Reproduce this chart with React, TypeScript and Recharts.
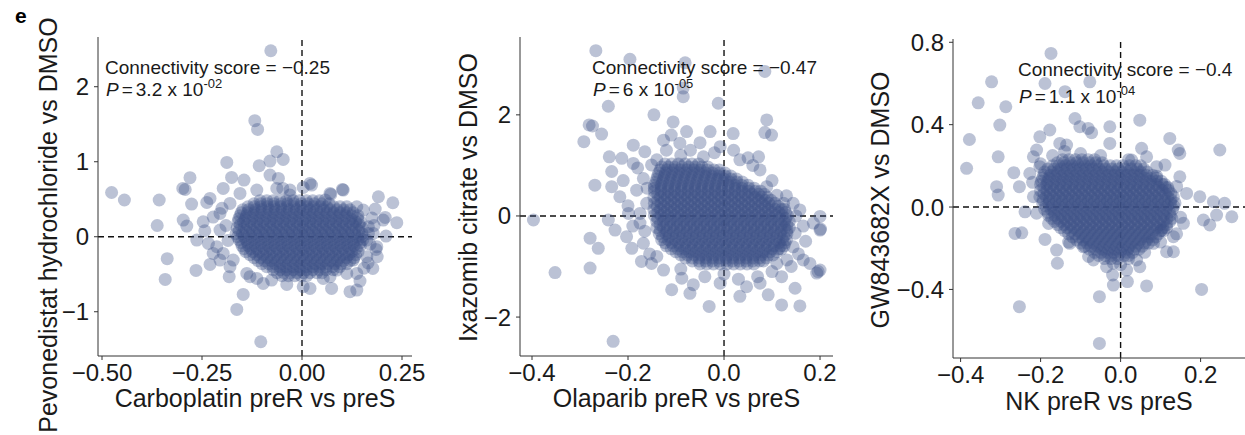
import React from "react";
import { ScatterChart, Scatter, XAxis, YAxis, ReferenceLine } from "recharts";

const FONT = "'Liberation Sans', Arial, Helvetica, sans-serif";
const POINT = "#3B5187";
const INK = "#1a1a1a";

// ---- panel 1: Carboplatin vs Pevonedistat ----
const xTicks1 = [-0.5, -0.25, 0, 0.25];
const xLabels1 = ["\u22120.50", "\u22120.25", "0.00", "0.25"];
const yTicks1 = [-1, 0, 1, 2];
const yLabels1 = ["\u22121", "0", "1", "2"];

const sparse1 = [
  [-0.078, 2.48], [-0.118, 1.547], [-0.111, 1.431],
  [-0.476, 0.59], [-0.444, 0.49], [-0.357, 0.49], [-0.362, 0.15],
  [-0.337, -0.293], [-0.342, -0.569], [-0.265, -0.449],
  [-0.28, 0.787], [-0.298, 0.644], [-0.292, 0.63], [-0.276, 0.436],
  [-0.297, 0.222], [-0.288, 0.142], [-0.238, 0.458], [-0.23, 0.511],
  [-0.188, 0.991], [-0.176, 0.791], [-0.145, 0.756], [-0.197, 0.644],
  [-0.107, 0.947], [-0.08, 1.009], [-0.063, 1.133], [-0.047, 1.031],
  [-0.08, 0.822], [-0.059, 0.778], [-0.048, 0.644],
  [0.003, 0.658], [0.02, 0.711], [0.024, 0.689], [0.101, 0.631], [0.072, 0.564],
  [0.191, 0.533], [0.227, 0.453], [0.208, 0.258], [0.237, 0.187], [0.183, 0.369], [0.21, 0.009],
  [0.185, -0.169], [0.188, -0.267], [0.177, -0.422], [0.145, -0.591], [0.137, -0.711],
  [0.12, -0.733], [0.112, -0.489], [0.074, -0.689], [0.02, -0.689], [0.003, -0.667],
  [-0.038, -0.636], [-0.076, -0.578], [-0.147, -0.769], [-0.163, -0.969], [-0.103, -1.4],
  [-0.182, -0.533], [-0.23, -0.369], [-0.263, -0.044], [-0.234, -0.089], [-0.205, -0.311],
  [-0.138, -0.489], [-0.113, -0.556], [0.053, -0.556], [0.087, -0.444], [0.137, -0.489],
  [0.162, -0.267], [0.166, 0.044], [0.153, 0.356], [0.137, 0.4], [0.058, 0.489], [-0.03, 0.556],
  [-0.222, 0.262], [-0.247, 0.2], [-0.205, 0.089], [-0.222, -0.222], [-0.172, -0.311],
  [-0.13, -0.533], [-0.097, -0.622], [0.07, -0.533], [0.128, -0.311], [0.162, -0.044],
  [0.166, 0.133], [0.112, 0.4], [0.07, 0.578], [-0.03, 0.622], [-0.063, 0.644],
  [-0.113, 0.622], [-0.155, 0.578], [-0.18, 0.444], [-0.205, 0.311], [0.103, 0.622],
  [0.203, 0.222], [0.178, 0.044], [0.187, -0.133], [-0.243, 0.08], [-0.213, -0.133],
  [-0.197, -0.222], [-0.18, -0.4], [-0.2, 0.38], [-0.19, 0.15], [-0.185, -0.05],
  [0.175, 0.25], [0.17, -0.1], [0.18, 0.15], [0.165, -0.35], [0.155, -0.42],
];

const core1: [number, number[]][] = [
  [0.48, [-0.105, -0.088, -0.072, -0.055, -0.039, -0.022, -0.006, 0.011, 0.027, 0.044]],
  [0.44, [-0.12, -0.103, -0.087, -0.07, -0.052, -0.036, -0.02, -0.002, 0.015, 0.031, 0.05, 0.068]],
  [0.4, [-0.135, -0.119, -0.103, -0.086, -0.07, -0.053, -0.037, -0.02, -0.004, 0.013, 0.029, 0.046, 0.062, 0.079, 0.095]],
  [0.36, [-0.148, -0.133, -0.116, -0.1, -0.082, -0.066, -0.049, -0.032, -0.014, 0.003, 0.02, 0.037, 0.054, 0.071, 0.088, 0.104, 0.12]],
  [0.32, [-0.152, -0.136, -0.119, -0.103, -0.086, -0.07, -0.053, -0.037, -0.02, -0.004, 0.013, 0.029, 0.046, 0.062, 0.079, 0.095, 0.112, 0.128]],
  [0.28, [-0.155, -0.139, -0.122, -0.106, -0.089, -0.073, -0.056, -0.04, -0.023, -0.007, 0.01, 0.026, 0.043, 0.059, 0.076, 0.092, 0.109, 0.125, 0.14]],
  [0.24, [-0.158, -0.142, -0.125, -0.109, -0.092, -0.076, -0.059, -0.043, -0.026, -0.01, 0.007, 0.023, 0.04, 0.056, 0.073, 0.089, 0.106, 0.122, 0.139]],
  [0.2, [-0.16, -0.146, -0.13, -0.113, -0.097, -0.08, -0.064, -0.047, -0.031, -0.014, 0.002, 0.019, 0.035, 0.052, 0.068, 0.085, 0.101, 0.118, 0.134, 0.146]],
  [0.16, [-0.154, -0.137, -0.12, -0.104, -0.087, -0.071, -0.054, -0.038, -0.021, -0.005, 0.012, 0.028, 0.045, 0.061, 0.078, 0.094, 0.111, 0.127, 0.143]],
  [0.12, [-0.162, -0.145, -0.129, -0.112, -0.096, -0.079, -0.063, -0.046, -0.03, -0.013, 0.003, 0.02, 0.036, 0.053, 0.069, 0.086, 0.102, 0.119, 0.135, 0.15]],
  [0.08, [-0.157, -0.14, -0.124, -0.107, -0.091, -0.074, -0.058, -0.041, -0.025, -0.008, 0.008, 0.025, 0.041, 0.058, 0.074, 0.091, 0.107, 0.124, 0.142]],
  [0.04, [-0.165, -0.149, -0.132, -0.116, -0.099, -0.083, -0.066, -0.05, -0.033, -0.017, 0.0, 0.016, 0.033, 0.049, 0.066, 0.082, 0.099, 0.115, 0.132, 0.15]],
  [0.0, [-0.161, -0.145, -0.128, -0.112, -0.095, -0.079, -0.062, -0.046, -0.029, -0.013, 0.004, 0.02, 0.037, 0.053, 0.07, 0.086, 0.103, 0.119, 0.136, 0.15]],
  [-0.04, [-0.157, -0.14, -0.124, -0.107, -0.091, -0.074, -0.058, -0.041, -0.025, -0.008, 0.008, 0.025, 0.041, 0.058, 0.074, 0.091, 0.107, 0.124, 0.14, 0.152]],
  [-0.08, [-0.152, -0.136, -0.119, -0.103, -0.086, -0.07, -0.053, -0.037, -0.02, -0.004, 0.013, 0.029, 0.046, 0.062, 0.079, 0.095, 0.112, 0.128, 0.145]],
  [-0.12, [-0.15, -0.134, -0.117, -0.101, -0.084, -0.068, -0.051, -0.035, -0.018, -0.002, 0.015, 0.031, 0.048, 0.064, 0.081, 0.097, 0.114, 0.13, 0.146]],
  [-0.16, [-0.145, -0.128, -0.112, -0.095, -0.079, -0.062, -0.046, -0.029, -0.013, 0.004, 0.02, 0.037, 0.053, 0.07, 0.086, 0.103, 0.119, 0.136]],
  [-0.2, [-0.14, -0.123, -0.107, -0.09, -0.074, -0.057, -0.041, -0.024, -0.008, 0.009, 0.025, 0.042, 0.058, 0.075, 0.091, 0.108, 0.124, 0.14]],
  [-0.24, [-0.13, -0.114, -0.097, -0.081, -0.064, -0.048, -0.031, -0.015, 0.002, 0.018, 0.035, 0.051, 0.068, 0.084, 0.101, 0.117, 0.134]],
  [-0.28, [-0.12, -0.104, -0.087, -0.071, -0.054, -0.038, -0.021, -0.005, 0.012, 0.028, 0.045, 0.061, 0.078, 0.094, 0.111, 0.13]],
  [-0.32, [-0.11, -0.094, -0.077, -0.061, -0.044, -0.028, -0.011, 0.005, 0.022, 0.038, 0.055, 0.071, 0.088, 0.104, 0.12]],
  [-0.36, [-0.1, -0.083, -0.067, -0.05, -0.034, -0.017, -0.001, 0.016, 0.032, 0.049, 0.065, 0.082, 0.098, 0.112]],
  [-0.4, [-0.088, -0.072, -0.055, -0.039, -0.022, -0.006, 0.011, 0.027, 0.044, 0.06, 0.077, 0.094]],
  [-0.44, [-0.072, -0.055, -0.039, -0.022, -0.006, 0.011, 0.027, 0.044, 0.06, 0.078]],
  [-0.48, [-0.062, -0.046, -0.029, -0.013, 0.004, 0.02, 0.037, 0.05]],
  [-0.52, [-0.05, -0.034, -0.018, -0.002, 0.012]],
];

// ---- panel 2: Olaparib vs Ixazomib ----
const xTicks2 = [-0.4, -0.2, 0, 0.2];
const xLabels2 = ["\u22120.4", "\u22120.2", "0.0", "0.2"];
const yTicks2 = [-2, 0, 2];
const yLabels2 = ["\u22122", "0", "2"];

const sparse2 = [
  [-0.267, 3.27], [-0.196, 3.1], [-0.081, 3.03], [-0.085, 2.53], [-0.085, 2.36], [0.085, 2.86],
  [-0.012, 2.23], [-0.241, 2.17], [-0.146, 2.0], [-0.281, 1.8], [-0.274, 1.78], [-0.292, 1.47],
  [-0.255, 1.62], [-0.239, 1.17], [-0.269, 0.61], [-0.234, 0.88], [-0.397, -0.08], [-0.352, -1.12],
  [-0.279, -0.44], [-0.262, -0.64], [-0.279, -1.03], [-0.231, -2.48], [-0.241, -0.08], [-0.227, -0.28],
  [-0.109, -1.46], [-0.071, -1.53], [-0.031, -1.79], [0.033, -1.59], [0.092, -1.56], [0.12, -1.76],
  [0.158, -1.78], [0.148, -1.43], [0.193, -1.13], [0.2, -1.07], [0.179, -0.94], [0.165, -0.87],
  [0.2, -0.28], [0.2, -0.01], [0.186, -0.14], [0.158, 0.12], [0.144, 0.25], [0.089, 1.9],
  [0.085, 1.65], [0.099, 1.6], [0.072, 1.17], [0.019, 1.63], [-0.029, 1.67], [-0.078, 1.67],
  [-0.106, 1.86], [-0.126, 1.5], [-0.189, 1.4], [-0.165, 1.27], [-0.213, 1.14], [-0.189, 1.04],
  [-0.151, 1.01], [-0.234, 0.58], [-0.217, 0.38], [-0.199, 0.05], [-0.203, -0.41], [-0.192, -0.64],
  [-0.172, -0.9], [-0.151, -0.94], [-0.126, -1.07], [-0.088, -1.23], [-0.064, -1.36], [-0.008, -1.33],
  [0.047, -1.4], [0.075, -1.33], [0.11, -0.94], [0.131, -0.87], [0.144, -0.61], [0.148, -0.34],
  [0.124, 0.25], [0.11, 0.41], [0.089, 0.58], [0.075, 0.91], [0.033, 1.11], [-0.008, 1.37],
  [-0.043, 1.17], [-0.092, 1.44], [-0.14, 1.11], [-0.168, 0.74], [-0.182, 0.51], [-0.161, 0.25],
  [-0.175, -0.14], [-0.168, -0.54], [-0.14, -0.8], [0.201, -0.26], [0.196, -1.1],
  [-0.21, 0.7], [-0.2, 0.2], [-0.19, -0.2], [-0.18, 0.95], [-0.165, -0.3], [-0.155, -0.75],
  [-0.16, 0.55], [-0.175, 0.05], [-0.12, 1.3], [-0.07, 1.3], [-0.05, 1.45], [-0.02, 1.25],
  [0.02, 1.3], [0.05, 1.15], [0.06, 1.0], [-0.09, 1.2], [-0.11, 1.6], [0.15, 0.0],
  [0.165, -0.2], [0.17, -0.5], [0.155, -0.75], [0.14, -1.0], [0.12, -1.2], [0.1, -1.1],
  [0.13, 0.4], [0.1, 0.7], [-0.09, -1.05], [-0.04, -1.2], [0.0, -1.15], [0.03, -1.25], [0.07, -1.2],
];

const core2: [number, number[]][] = [
  [1.03, [-0.123, -0.109, -0.095, -0.081, -0.067, -0.053]],
  [0.97, [-0.13, -0.116, -0.102, -0.088, -0.074, -0.06, -0.046, -0.034]],
  [0.91, [-0.133, -0.119, -0.105, -0.091, -0.077, -0.063, -0.049, -0.035, -0.021, -0.01]],
  [0.85, [-0.136, -0.122, -0.108, -0.094, -0.08, -0.066, -0.052, -0.038, -0.024, -0.01, 0.002]],
  [0.79, [-0.138, -0.124, -0.11, -0.096, -0.082, -0.068, -0.054, -0.04, -0.026, -0.012, 0.002, 0.014]],
  [0.73, [-0.14, -0.126, -0.112, -0.098, -0.084, -0.07, -0.056, -0.042, -0.028, -0.014, 0.0, 0.014, 0.026]],
  [0.67, [-0.142, -0.128, -0.114, -0.1, -0.086, -0.072, -0.058, -0.044, -0.03, -0.016, -0.002, 0.012, 0.026, 0.038]],
  [0.61, [-0.145, -0.131, -0.117, -0.103, -0.089, -0.075, -0.061, -0.047, -0.033, -0.019, -0.005, 0.009, 0.023, 0.037, 0.05]],
  [0.55, [-0.145, -0.131, -0.117, -0.103, -0.089, -0.075, -0.061, -0.047, -0.033, -0.019, -0.005, 0.009, 0.023, 0.037, 0.051, 0.063]],
  [0.49, [-0.145, -0.131, -0.117, -0.103, -0.089, -0.075, -0.061, -0.047, -0.033, -0.019, -0.005, 0.009, 0.023, 0.037, 0.051, 0.065, 0.076]],
  [0.43, [-0.138, -0.124, -0.11, -0.096, -0.082, -0.068, -0.054, -0.04, -0.026, -0.012, 0.002, 0.016, 0.03, 0.044, 0.058, 0.072, 0.084]],
  [0.37, [-0.146, -0.132, -0.118, -0.104, -0.09, -0.076, -0.062, -0.048, -0.034, -0.02, -0.006, 0.008, 0.022, 0.036, 0.05, 0.064, 0.078, 0.09]],
  [0.31, [-0.138, -0.124, -0.11, -0.096, -0.082, -0.068, -0.054, -0.04, -0.026, -0.012, 0.002, 0.016, 0.03, 0.044, 0.058, 0.072, 0.086, 0.098]],
  [0.25, [-0.145, -0.131, -0.117, -0.103, -0.089, -0.075, -0.061, -0.047, -0.033, -0.019, -0.005, 0.009, 0.023, 0.037, 0.051, 0.065, 0.079, 0.093, 0.106]],
  [0.19, [-0.139, -0.125, -0.111, -0.097, -0.083, -0.069, -0.055, -0.041, -0.027, -0.013, 0.001, 0.015, 0.029, 0.043, 0.057, 0.071, 0.085, 0.099, 0.113]],
  [0.13, [-0.146, -0.132, -0.118, -0.104, -0.09, -0.076, -0.062, -0.048, -0.034, -0.02, -0.006, 0.008, 0.022, 0.036, 0.05, 0.064, 0.078, 0.092, 0.106, 0.12, 0.126]],
  [0.07, [-0.138, -0.124, -0.11, -0.096, -0.082, -0.068, -0.054, -0.04, -0.026, -0.012, 0.002, 0.016, 0.03, 0.044, 0.058, 0.072, 0.086, 0.1, 0.114, 0.128]],
  [0.01, [-0.145, -0.131, -0.117, -0.103, -0.089, -0.075, -0.061, -0.047, -0.033, -0.019, -0.005, 0.009, 0.023, 0.037, 0.051, 0.065, 0.079, 0.093, 0.107, 0.121, 0.132]],
  [-0.05, [-0.138, -0.124, -0.11, -0.096, -0.082, -0.068, -0.054, -0.04, -0.026, -0.012, 0.002, 0.016, 0.03, 0.044, 0.058, 0.072, 0.086, 0.1, 0.114, 0.128]],
  [-0.11, [-0.14, -0.126, -0.112, -0.098, -0.084, -0.07, -0.056, -0.042, -0.028, -0.014, 0.0, 0.014, 0.028, 0.042, 0.056, 0.07, 0.084, 0.098, 0.112, 0.126, 0.136]],
  [-0.17, [-0.133, -0.119, -0.105, -0.091, -0.077, -0.063, -0.049, -0.035, -0.021, -0.007, 0.007, 0.021, 0.035, 0.049, 0.063, 0.077, 0.091, 0.105, 0.119, 0.131]],
  [-0.23, [-0.14, -0.126, -0.112, -0.098, -0.084, -0.07, -0.056, -0.042, -0.028, -0.014, 0.0, 0.014, 0.028, 0.042, 0.056, 0.07, 0.084, 0.098, 0.112, 0.126, 0.136]],
  [-0.29, [-0.133, -0.119, -0.105, -0.091, -0.077, -0.063, -0.049, -0.035, -0.021, -0.007, 0.007, 0.021, 0.035, 0.049, 0.063, 0.077, 0.091, 0.105, 0.119, 0.131]],
  [-0.35, [-0.135, -0.121, -0.107, -0.093, -0.079, -0.065, -0.051, -0.037, -0.023, -0.009, 0.005, 0.019, 0.033, 0.047, 0.061, 0.075, 0.089, 0.103, 0.117, 0.131]],
  [-0.41, [-0.128, -0.114, -0.1, -0.086, -0.072, -0.058, -0.044, -0.03, -0.016, -0.002, 0.012, 0.026, 0.04, 0.054, 0.068, 0.082, 0.096, 0.11, 0.124]],
  [-0.47, [-0.13, -0.116, -0.102, -0.088, -0.074, -0.06, -0.046, -0.032, -0.018, -0.004, 0.01, 0.024, 0.038, 0.052, 0.066, 0.08, 0.094, 0.108, 0.122, 0.13]],
  [-0.53, [-0.123, -0.109, -0.095, -0.081, -0.067, -0.053, -0.039, -0.025, -0.011, 0.003, 0.017, 0.031, 0.045, 0.059, 0.073, 0.087, 0.101, 0.115, 0.127]],
  [-0.59, [-0.12, -0.106, -0.092, -0.078, -0.064, -0.05, -0.036, -0.022, -0.008, 0.006, 0.02, 0.034, 0.048, 0.062, 0.076, 0.09, 0.104, 0.118, 0.125]],
  [-0.65, [-0.11, -0.096, -0.082, -0.068, -0.054, -0.04, -0.026, -0.012, 0.002, 0.016, 0.03, 0.044, 0.058, 0.072, 0.086, 0.1, 0.114, 0.12]],
  [-0.71, [-0.1, -0.086, -0.072, -0.058, -0.044, -0.03, -0.016, -0.002, 0.012, 0.026, 0.04, 0.054, 0.068, 0.082, 0.096, 0.11]],
  [-0.77, [-0.09, -0.076, -0.062, -0.048, -0.034, -0.02, -0.006, 0.008, 0.022, 0.036, 0.05, 0.064, 0.078, 0.092, 0.102]],
  [-0.83, [-0.08, -0.066, -0.052, -0.038, -0.024, -0.01, 0.004, 0.018, 0.032, 0.046, 0.06, 0.074, 0.088]],
  [-0.89, [-0.066, -0.052, -0.038, -0.024, -0.01, 0.004, 0.018, 0.032, 0.046, 0.06, 0.074, 0.082]],
  [-0.95, [-0.05, -0.036, -0.022, -0.008, 0.006, 0.02, 0.034, 0.048, 0.062]],
];

// ---- panel 3: NK vs GW843682X ----
const xTicks3 = [-0.4, -0.2, 0, 0.2];
const xLabels3 = ["\u22120.4", "\u22120.2", "0.0", "0.2"];
const yTicks3 = [-0.4, 0, 0.4, 0.8];
const yLabels3 = ["\u22120.4", "0.0", "0.4", "0.8"];

const sparse3 = [
  [-0.174, 0.746], [-0.3225, 0.608], [-0.189, 0.6], [-0.077, 0.608], [-0.139, 0.56], [-0.356, 0.506],
  [-0.287, 0.487], [-0.302, 0.398], [-0.378, 0.328], [-0.385, 0.188], [-0.306, 0.244], [-0.31, 0.099],
  [-0.306, 0.058], [-0.267, 0.167], [-0.253, 0.099], [-0.264, -0.128], [-0.247, -0.125], [-0.189, -0.157],
  [-0.16, -0.209], [-0.158, -0.273], [-0.253, -0.484], [-0.053, -0.435], [-0.053, -0.662], [-0.018, -0.379],
  [0.017, -0.362], [0.065, -0.383], [0.2025, -0.4], [0.048, 0.422], [-0.027, 0.39], [-0.027, 0.309],
  [-0.114, 0.43], [-0.102, 0.39], [-0.081, 0.382], [-0.0725, 0.361], [-0.177, 0.374], [-0.202, 0.341],
  [-0.152, 0.309], [0.123, 0.333], [0.144, 0.277], [0.148, 0.26], [0.248, 0.277], [0.0525, 0.285],
  [0.065, 0.244], [0.0275, 0.228], [0.09, 0.196], [0.111, 0.204], [0.148, 0.147], [0.165, 0.066],
  [0.198, 0.05], [0.232, 0.026], [0.26, 0.018], [0.278, -0.047], [0.24, -0.039], [0.207, -0.063],
  [0.223, -0.087], [0.157, -0.079], [0.132, -0.144], [0.132, -0.217], [0.115, -0.217], [0.048, -0.29],
  [0.04, -0.257], [-0.035, -0.29], [-0.018, -0.273], [0.015, -0.306], [-0.239, -0.023], [-0.218, 0.05],
  [-0.227, 0.163], [-0.218, 0.244], [-0.21, 0.277], [-0.135, 0.301], [-0.202, 0.196], [-0.127, -0.176],
  [-0.093, -0.193], [-0.068, -0.257], [0.082, -0.176], [0.1025, -0.112],
  [-0.22, 0.12], [-0.21, -0.03], [-0.2, 0.21], [-0.17, 0.25], [-0.14, 0.27], [-0.1, 0.26],
  [-0.05, 0.25], [0.02, 0.23], [0.09, 0.15], [0.14, 0.1], [0.15, -0.05], [0.14, -0.13],
  [0.1, -0.17], [0.06, -0.22], [0.02, -0.25], [-0.08, -0.24], [-0.13, -0.17], [-0.18, -0.08],
  [-0.02, -0.33], [0.0, -0.28],
];

const core3: [number, number[]][] = [
  [0.23, [-0.145, -0.129, -0.113, -0.097, -0.081, -0.065]],
  [0.215, [-0.158, -0.142, -0.126, -0.11, -0.094, -0.078, -0.062, -0.046]],
  [0.2, [-0.17, -0.154, -0.138, -0.122, -0.106, -0.09, -0.074, -0.058, -0.042, -0.026, -0.01, 0.006, 0.022, 0.038, 0.05]],
  [0.185, [-0.182, -0.166, -0.15, -0.134, -0.118, -0.102, -0.086, -0.07, -0.054, -0.038, -0.022, -0.006, 0.01, 0.026, 0.042, 0.058]],
  [0.17, [-0.19, -0.174, -0.158, -0.142, -0.126, -0.11, -0.094, -0.078, -0.062, -0.046, -0.03, -0.014, 0.002, 0.018, 0.034, 0.05, 0.066]],
  [0.155, [-0.192, -0.176, -0.16, -0.144, -0.128, -0.112, -0.096, -0.08, -0.064, -0.048, -0.032, -0.016, 0.0, 0.016, 0.032, 0.048, 0.064, 0.08]],
  [0.14, [-0.195, -0.179, -0.163, -0.147, -0.131, -0.115, -0.099, -0.083, -0.067, -0.051, -0.035, -0.019, -0.003, 0.013, 0.029, 0.045, 0.061, 0.077, 0.09]],
  [0.125, [-0.198, -0.182, -0.166, -0.15, -0.134, -0.118, -0.102, -0.086, -0.07, -0.054, -0.038, -0.022, -0.006, 0.01, 0.026, 0.042, 0.058, 0.074, 0.09, 0.102]],
  [0.11, [-0.2, -0.184, -0.168, -0.152, -0.136, -0.12, -0.104, -0.088, -0.072, -0.056, -0.04, -0.024, -0.008, 0.008, 0.024, 0.04, 0.056, 0.072, 0.088, 0.104, 0.11]],
  [0.095, [-0.192, -0.176, -0.16, -0.144, -0.128, -0.112, -0.096, -0.08, -0.064, -0.048, -0.032, -0.016, 0.0, 0.016, 0.032, 0.048, 0.064, 0.08, 0.096, 0.112, 0.118]],
  [0.08, [-0.2, -0.184, -0.168, -0.152, -0.136, -0.12, -0.104, -0.088, -0.072, -0.056, -0.04, -0.024, -0.008, 0.008, 0.024, 0.04, 0.056, 0.072, 0.088, 0.104, 0.12]],
  [0.065, [-0.192, -0.176, -0.16, -0.144, -0.128, -0.112, -0.096, -0.08, -0.064, -0.048, -0.032, -0.016, 0.0, 0.016, 0.032, 0.048, 0.064, 0.08, 0.096, 0.112, 0.126]],
  [0.05, [-0.202, -0.186, -0.17, -0.154, -0.138, -0.122, -0.106, -0.09, -0.074, -0.058, -0.042, -0.026, -0.01, 0.006, 0.022, 0.038, 0.054, 0.07, 0.086, 0.102, 0.118, 0.132]],
  [0.035, [-0.194, -0.178, -0.162, -0.146, -0.13, -0.114, -0.098, -0.082, -0.066, -0.05, -0.034, -0.018, -0.002, 0.014, 0.03, 0.046, 0.062, 0.078, 0.094, 0.11, 0.126]],
  [0.02, [-0.195, -0.179, -0.163, -0.147, -0.131, -0.115, -0.099, -0.083, -0.067, -0.051, -0.035, -0.019, -0.003, 0.013, 0.029, 0.045, 0.061, 0.077, 0.093, 0.109, 0.125, 0.136]],
  [0.005, [-0.187, -0.171, -0.155, -0.139, -0.123, -0.107, -0.091, -0.075, -0.059, -0.043, -0.027, -0.011, 0.005, 0.021, 0.037, 0.053, 0.069, 0.085, 0.101, 0.117, 0.133]],
  [-0.01, [-0.19, -0.174, -0.158, -0.142, -0.126, -0.11, -0.094, -0.078, -0.062, -0.046, -0.03, -0.014, 0.002, 0.018, 0.034, 0.05, 0.066, 0.082, 0.098, 0.114, 0.13]],
  [-0.025, [-0.182, -0.166, -0.15, -0.134, -0.118, -0.102, -0.086, -0.07, -0.054, -0.038, -0.022, -0.006, 0.01, 0.026, 0.042, 0.058, 0.074, 0.09, 0.106, 0.122]],
  [-0.04, [-0.18, -0.164, -0.148, -0.132, -0.116, -0.1, -0.084, -0.068, -0.052, -0.036, -0.02, -0.004, 0.012, 0.028, 0.044, 0.06, 0.076, 0.092, 0.108, 0.124]],
  [-0.055, [-0.172, -0.156, -0.14, -0.124, -0.108, -0.092, -0.076, -0.06, -0.044, -0.028, -0.012, 0.004, 0.02, 0.036, 0.052, 0.068, 0.084, 0.1, 0.116, 0.128]],
  [-0.07, [-0.165, -0.149, -0.133, -0.117, -0.101, -0.085, -0.069, -0.053, -0.037, -0.021, -0.005, 0.011, 0.027, 0.043, 0.059, 0.075, 0.091, 0.107, 0.123]],
  [-0.085, [-0.157, -0.141, -0.125, -0.109, -0.093, -0.077, -0.061, -0.045, -0.029, -0.013, 0.003, 0.019, 0.035, 0.051, 0.067, 0.083, 0.099, 0.115]],
  [-0.1, [-0.15, -0.134, -0.118, -0.102, -0.086, -0.07, -0.054, -0.038, -0.022, -0.006, 0.01, 0.026, 0.042, 0.058, 0.074, 0.09, 0.106, 0.115]],
  [-0.115, [-0.14, -0.124, -0.108, -0.092, -0.076, -0.06, -0.044, -0.028, -0.012, 0.004, 0.02, 0.036, 0.052, 0.068, 0.084, 0.1, 0.108]],
  [-0.13, [-0.13, -0.114, -0.098, -0.082, -0.066, -0.05, -0.034, -0.018, -0.002, 0.014, 0.03, 0.046, 0.062, 0.078, 0.094]],
  [-0.145, [-0.12, -0.104, -0.088, -0.072, -0.056, -0.04, -0.024, -0.008, 0.008, 0.024, 0.04, 0.056, 0.072, 0.088]],
  [-0.16, [-0.11, -0.094, -0.078, -0.062, -0.046, -0.03, -0.014, 0.002, 0.018, 0.034, 0.05, 0.066, 0.08]],
  [-0.175, [-0.1, -0.084, -0.068, -0.052, -0.036, -0.02, -0.004, 0.012, 0.028, 0.044, 0.06, 0.07]],
  [-0.19, [-0.09, -0.074, -0.058, -0.042, -0.026, -0.01, 0.006, 0.022, 0.038, 0.054]],
  [-0.205, [-0.078, -0.062, -0.046, -0.03, -0.014, 0.002, 0.018, 0.034, 0.046]],
  [-0.22, [-0.065, -0.049, -0.033, -0.017, -0.001, 0.015, 0.03]],
  [-0.235, [-0.055, -0.039, -0.023, -0.007, 0.009, 0.02]],
  [-0.25, [-0.04, -0.024, -0.008]],
];

type Pt = { x: number; y: number };
const toPoints = (sparse: number[][], core: [number, number[]][]): Pt[] => [
  ...sparse.map(([x, y]) => ({ x, y })),
  ...core.flatMap(([y, xs]) => xs.map((x) => ({ x, y }))),
];

const Dot = (p: any) => (
  <circle cx={p.cx} cy={p.cy} r={6.5} fill={POINT} fillOpacity={0.35} />
);

interface PanelProps {
  data: Pt[];
  left: number; top: number; right: number; bottom: number;
  xDomain: [number, number]; yDomain: [number, number];
  xTicks: number[]; xLabels: string[]; yTicks: number[]; yLabels: string[];
}

const W = 1245;
const H = 435;
const YW = 60;
const XH = 30;

const Panel = (p: PanelProps) => {
  const tick = { fontSize: 24, fill: INK, fontFamily: FONT };
  return (
    <div style={{ position: "absolute", left: 0, top: 0 }}>
      <ScatterChart
        width={W}
        height={H}
        margin={{ top: p.top, left: p.left - YW, right: W - p.right, bottom: H - p.bottom - XH }}
      >
        <XAxis
          type="number" dataKey="x" domain={p.xDomain} allowDataOverflow ticks={p.xTicks}
          interval={0} height={XH} tick={tick} tickSize={4} tickMargin={4}
          tickFormatter={(v: number) => p.xLabels[p.xTicks.indexOf(v)] ?? String(v)}
          stroke="#333" axisLine={{ stroke: "#333" }} tickLine={{ stroke: "#333" }}
        />
        <YAxis
          type="number" dataKey="y" domain={p.yDomain} allowDataOverflow ticks={p.yTicks}
          interval={0} width={YW} tick={tick} tickSize={4} tickMargin={5}
          tickFormatter={(v: number) => p.yLabels[p.yTicks.indexOf(v)] ?? String(v)}
          stroke="#333" axisLine={{ stroke: "#333" }} tickLine={{ stroke: "#333" }}
        />
        <Scatter data={p.data} shape={Dot} isAnimationActive={false} />
        <ReferenceLine x={0} stroke="#111" strokeWidth={1.4} strokeDasharray="6 4" />
        <ReferenceLine y={0} stroke="#111" strokeWidth={1.4} strokeDasharray="6 4" />
      </ScatterChart>
    </div>
  );
};

const Note = ({ x, y1, y2, score, p, exp }: { x: number; y1: number; y2: number; score: string; p: string; exp: string }) => (
  <g fontFamily={FONT} fontSize={19} fill={INK}>
    <text x={x} y={y1}>{`Connectivity score = ${score}`}</text>
    <text x={x + 1} y={y2}>
      <tspan fontStyle="italic">P</tspan>
      <tspan dx={3}>=</tspan>
      <tspan dx={3}>{`${p} x 10`}</tspan>
      <tspan dy={-8} fontSize={13}>{exp}</tspan>
    </text>
  </g>
);

const YTitle = ({ x, y, text }: { x: number; y: number; text: string }) => (
  <text transform={`translate(${x},${y}) rotate(-90)`} textAnchor="middle" fontFamily={FONT} fontSize={25} fill={INK}>
    {text}
  </text>
);

const XTitle = ({ x, y, text }: { x: number; y: number; text: string }) => (
  <text x={x} y={y} textAnchor="middle" fontFamily={FONT} fontSize={25} fill={INK}>
    {text}
  </text>
);

export default function App() {
  return (
    <div style={{ position: "absolute", left: 0, top: 0, width: W, height: H, background: "#fff" }}>
      <Panel
        data={toPoints(sparse1, core1)} left={98} top={37} right={412} bottom={356}
        xDomain={[-0.51, 0.275]} yDomain={[-1.59, 2.663]}
        xTicks={xTicks1} xLabels={xLabels1} yTicks={yTicks1} yLabels={yLabels1}
      />
      <Panel
        data={toPoints(sparse2, core2)} left={520} top={37} right={833} bottom={356}
        xDomain={[-0.425, 0.227]} yDomain={[-2.77, 3.54]}
        xTicks={xTicks2} xLabels={xLabels2} yTicks={yTicks2} yLabels={yLabels2}
      />
      <Panel
        data={toPoints(sparse3, core3)} left={953} top={39} right={1245} bottom={358}
        xDomain={[-0.419, 0.311]} yDomain={[-0.733, 0.816]}
        xTicks={xTicks3} xLabels={xLabels3} yTicks={yTicks3} yLabels={yLabels3}
      />
      <svg width={W} height={H} style={{ position: "absolute", left: 0, top: 0, pointerEvents: "none" }}>
        <text x={15} y={23} fontFamily={FONT} fontSize={21} fontWeight="bold" fill="#000">e</text>
        <Note x={105} y1={73.5} y2={95.5} score={"\u22120.25"} p="3.2" exp="-02" />
        <Note x={592} y1={73.5} y2={96} score={"\u22120.47"} p="6" exp="-05" />
        <Note x={1018} y1={76} y2={103} score={"\u22120.4"} p="1.1" exp="-04" />
        <YTitle x={57} y={225} text="Pevonedistat hydrochloride vs DMSO" />
        <YTitle x={477} y={197.5} text="Ixazomib citrate vs DMSO" />
        <YTitle x={889} y={200} text="GW843682X vs DMSO" />
        <XTitle x={255} y={407} text="Carboplatin preR vs preS" />
        <XTitle x={676.5} y={407} text="Olaparib preR vs preS" />
        <XTitle x={1099} y={409.5} text="NK preR vs preS" />
      </svg>
    </div>
  );
}
